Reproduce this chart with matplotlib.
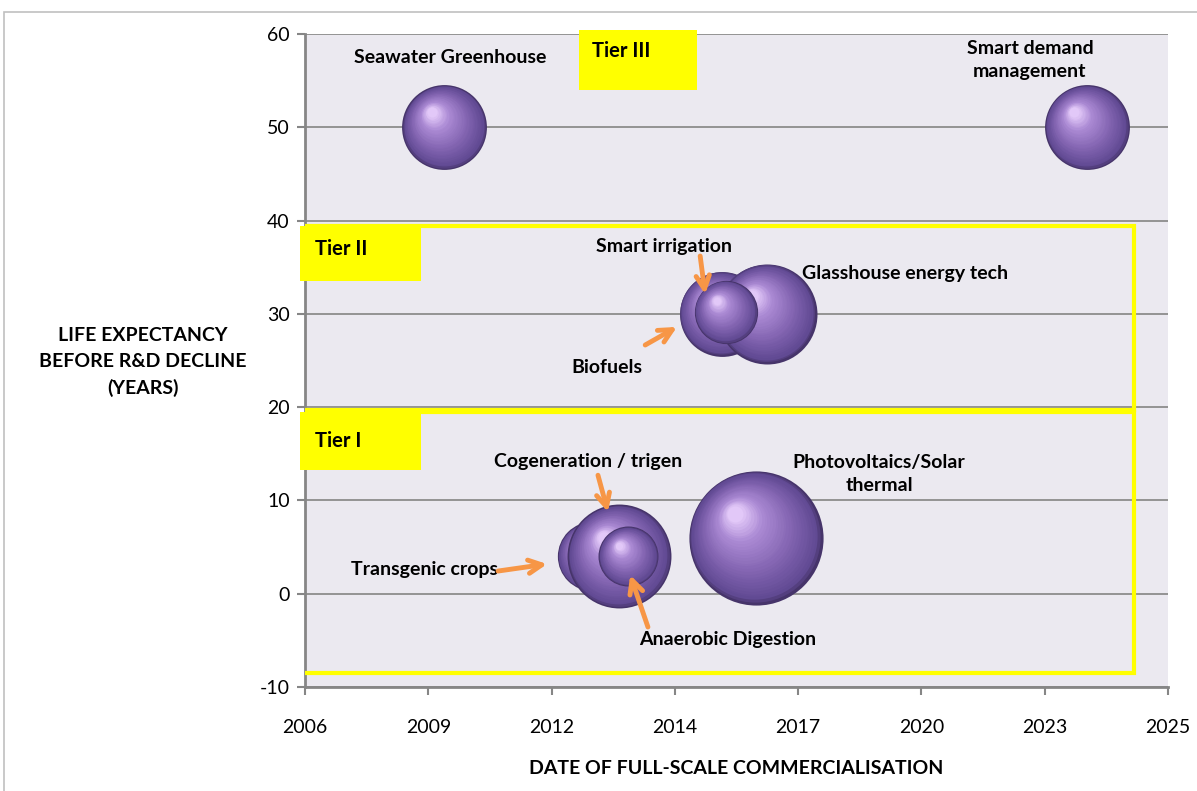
#!/usr/bin/env python3
import numpy as np
import matplotlib
matplotlib.use('Agg')
import matplotlib.pyplot as plt
from matplotlib.patches import Rectangle
from matplotlib.transforms import ScaledTranslation
from matplotlib.colors import LinearSegmentedColormap

# Bubble data: commercialisation date (decimal year), life expectancy, bubble size
technologies = ['Seawater Greenhouse', 'Smart demand management',
                'Biofuels', 'Glasshouse energy tech', 'Smart irrigation',
                'Photovoltaics/Solar thermal',
                'Transgenic crops', 'Cogeneration / trigen', 'Anaerobic Digestion']
commercial_year = [2009.85, 2024.0, 2015.95, 2016.95, 2016.05, 2016.7,
                   2013.1, 2013.7, 2013.9]
life_expectancy = [50, 50, 30, 30, 30.2, 6, 4, 4, 4]
bubble_size = [18, 18, 18, 25, 10, 45, 12, 27, 9]

x_tick_labels = ['2006', '2009', '2012', '2014', '2017', '2020', '2023', '2025']
X_MIN, X_MAX = 2006.78, 2025.78
Y_MIN, Y_MAX = -10, 60

plt.rcParams['font.family'] = ['Lato', 'DejaVu Sans']
plt.rcParams['axes.unicode_minus'] = False

PURPLE_RAMP = LinearSegmentedColormap.from_list(
    'sphere', [(0.0, '#46346a'), (0.06, '#604992'), (0.35, '#7f61ae'),
               (0.75, '#ab8ad4'), (1.0, '#e2c8f8')])
ORANGE = '#f79646'
YELLOW = '#ffff00'


def draw_sphere(ax, fig, x, y, size, zorder, layers=30):
    # fake 3D shading: stacked circles shifting toward the highlight
    r = 7.2 * np.sqrt(size)  # radius in points
    hx, hy = -0.30 * r, 0.36 * r
    for i in range(layers + 1):
        t = i / layers
        rad = r * (1 - t) + 0.12 * r * t
        dx, dy = hx * t, hy * t
        tr = ax.transData + ScaledTranslation(dx / 72, dy / 72, fig.dpi_scale_trans)
        ax.scatter([x], [y], s=(2 * rad) ** 2, color=PURPLE_RAMP(t),
                   linewidths=0, transform=tr, zorder=zorder + t * 0.5)


fig = plt.figure(figsize=(11.97, 7.91), dpi=100)
ax = fig.add_axes([305 / 1197, 1 - 687 / 791, 863 / 1197, 653 / 791])
ax.set_facecolor('#ebe9f0')

# outer chart frame
fig.patches.append(Rectangle((4 / 1197, -0.02), 1.1, 1 - 12 / 791 + 0.02,
                             transform=fig.transFigure, fill=False,
                             edgecolor='#c0c0c0', linewidth=1.2))

ax.set_xlim(X_MIN, X_MAX)
ax.set_ylim(Y_MIN, Y_MAX)
ax.set_xticks(np.linspace(X_MIN, X_MAX, len(x_tick_labels)))
ax.set_xticklabels(x_tick_labels)
ax.set_yticks(range(Y_MIN, Y_MAX + 1, 10))
ax.tick_params(axis='both', labelsize=14, colors='#868686', labelcolor='black',
               length=6, width=1.5)
ax.tick_params(axis='x', pad=17)
ax.tick_params(axis='y', pad=5)
for side in ['top', 'right']:
    ax.spines[side].set_visible(False)
for side in ['left', 'bottom']:
    ax.spines[side].set_color('#868686')
    ax.spines[side].set_linewidth(2)
ax.grid(axis='y', color='#8c8c8c', linewidth=1.3)
ax.set_axisbelow(True)

# draw bubbles in series order (later ones on top)
for i in range(len(technologies)):
    draw_sphere(ax, fig, commercial_year[i], life_expectancy[i],
                bubble_size[i], zorder=3 + i)

# tier outlines and labels
box_kw = dict(fill=False, edgecolor=YELLOW, linewidth=3, zorder=20)
ax.add_patch(Rectangle((2006.67, 19.69), 2025.03 - 2006.67, 39.42 - 19.69, **box_kw))
ax.add_patch(Rectangle((2006.67, -8.5), 2025.03 - 2006.67, 19.48 + 8.5, **box_kw))
lab_kw = dict(facecolor=YELLOW, edgecolor='none', zorder=21, clip_on=False)
ax.add_patch(Rectangle((2006.67, 33.52), 2009.33 - 2006.67, 39.42 - 33.52, **lab_kw))
ax.add_patch(Rectangle((2006.67, 13.26), 2009.33 - 2006.67, 19.48 - 13.26, **lab_kw))
ax.add_patch(Rectangle((2012.81, 54.0), 2015.41 - 2012.81, 60.43 - 54.0, **lab_kw))
tier_kw = dict(fontsize=14.5, fontweight='bold', va='center', ha='left', zorder=22)
ax.text(2007.0, 37.0, 'Tier II', **tier_kw)
ax.text(2007.0, 16.4, 'Tier I', **tier_kw)
ax.text(2013.1, 58.2, 'Tier III', **tier_kw)

# bubble labels
lbl = dict(fontsize=14, fontweight='bold', ha='center', va='center', zorder=25)
ax.text(2009.97, 57.5, 'Seawater Greenhouse', **lbl)
ax.text(2022.74, 57.2, 'Smart demand\nmanagement', linespacing=1.45, **lbl)
ax.text(2014.68, 37.2, 'Smart irrigation', **lbl)
ax.text(2017.72, 34.3, 'Glasshouse energy tech', fontsize=14, fontweight='bold',
        ha='left', va='center', zorder=25)
ax.text(2013.43, 24.3, 'Biofuels', **lbl)
ax.text(2013.01, 14.2, 'Cogeneration / trigen', **lbl)
ax.text(2019.42, 12.8, 'Photovoltaics/Solar\nthermal', linespacing=1.45, **lbl)
ax.text(2009.4, 2.55, 'Transgenic crops', **lbl)
ax.text(2016.09, -4.96, 'Anaerobic Digestion', **lbl)

# orange pointer arrows (tail -> head)
arrows = [((2015.48, 36.2), (2015.59, 32.1)),
          ((2014.27, 26.66), (2014.97, 28.6)),
          ((2013.23, 12.7), (2013.45, 8.76)),
          ((2011.03, 2.43), (2012.11, 3.18)),
          ((2014.33, -3.57), (2013.94, 2.0))]
for tail, head in arrows:
    ax.annotate('', xy=head, xytext=tail, zorder=26,
                arrowprops=dict(arrowstyle='->', color=ORANGE, lw=3.5,
                                mutation_scale=24, shrinkA=0, shrinkB=0))

ax.set_xlabel('DATE OF FULL-SCALE COMMERCIALISATION', fontsize=14,
              fontweight='bold', labelpad=17)
fig.text(143 / 1197, 1 - 362 / 791, 'LIFE EXPECTANCY\nBEFORE R&D DECLINE\n(YEARS)',
         fontsize=14, fontweight='bold', ha='center', va='center',
         linespacing=1.65)

fig.savefig('out.png', dpi=100)
